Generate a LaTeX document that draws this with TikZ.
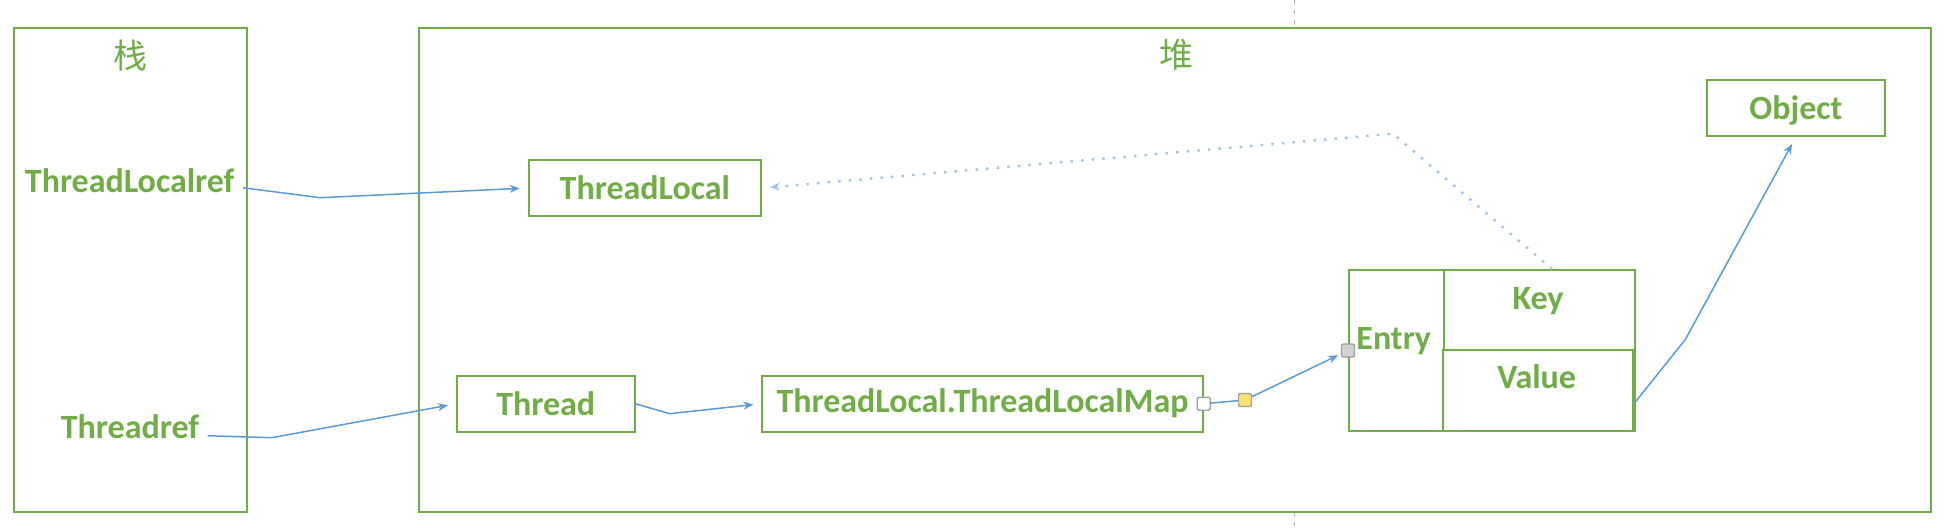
\documentclass[tikz,border=0pt]{standalone}
\usepackage{fontspec}
\setmainfont{Carlito}
\newfontfamily\cjk{Noto Sans CJK SC}
\usetikzlibrary{arrows.meta}
\definecolor{boxgreen}{RGB}{112,173,71}
\definecolor{linkblue}{RGB}{91,155,213}
\definecolor{dotblue}{RGB}{157,195,230}
\definecolor{gripyellow}{RGB}{255,226,110}

\begin{document}
\begin{tikzpicture}[
  x=0.5pt, y=-0.5pt,
  area/.style={
    draw=boxgreen, line width=1pt, inner sep=0pt
  },
  obj/.style={
    draw=boxgreen, line width=1pt, inner sep=0pt,
    font=\fontsize{17}{20}\selectfont\bfseries, text=boxgreen
  },
  lbl/.style={
    font=\fontsize{17}{20}\selectfont\bfseries, text=boxgreen, inner sep=4pt
  },
  ttl/.style={
    font=\fontsize{17}{20}\selectfont\cjk, text=boxgreen
  },
  arr/.style={
    -{Stealth[length=5pt, width=4pt]}, color=linkblue, line width=0.75pt,
    shorten >=4pt
  },
  refarr/.style={
    -{Stealth[length=5pt, width=4pt]}, color=dotblue, line width=1.2pt,
    dash pattern=on 1.2pt off 4.1pt, shorten >=4pt
  },
  grip/.style={
    draw=gray!75, rounded corners=1pt, minimum size=6.5pt, inner sep=0pt,
    line width=0.7pt
  },
  pagebreak/.style={
    draw=gray!55, line width=0.65pt, dash pattern=on 2.5pt off 2.5pt
  }
]
\useasboundingbox (0,0) rectangle (1959,527);

% Page break marks
\draw[pagebreak] (1294.8,0) -- (1294.8,28);
\draw[pagebreak] (1294.8,511.7) -- (1294.8,527);

% Stack and heap
\node[area, minimum width=116.35pt, minimum height=241.85pt] (stack) at (130.65,269.85) {};
\node[ttl] (stacktitle) at (130.3,55.3) {栈};
\node[lbl] (tlref) at (129.7,180.7) {ThreadLocalref};
\node[lbl] (threadref) at (130,426.5) {Threadref};

\node[area, minimum width=755.85pt, minimum height=241.85pt] (heap) at (1174.85,269.85) {};
\node[ttl] (heaptitle) at (1176.3,55) {堆};

% Heap objects
\node[obj, minimum width=116.15pt, minimum height=28pt] (tl) at (644.85,188) {ThreadLocal};
\node[obj, minimum width=89.05pt, minimum height=27.85pt] (thread) at (545.75,403.85) {Thread};
\node[obj, minimum width=220.2pt, minimum height=28pt] (map) at (982.5,403.7) {ThreadLocal.ThreadLocalMap};
\node[obj, minimum width=89.15pt, minimum height=28pt, text depth=0pt] (object) at (1795.85,108) {Object};

\node[area, minimum width=143pt, minimum height=80.5pt] (entry) at (1492,350.5) {};
\node[area, minimum width=95.35pt, minimum height=40pt] (key) at (1539.65,310) {};
\node[area, minimum width=95pt, minimum height=40.5pt] (value) at (1538.3,390.5) {};
\node[lbl, anchor=west] (entrytxt) at ([yshift=4.6pt]entry.west) {Entry};
\node[lbl] (keytxt) at ([xshift=-0.8pt, yshift=4.6pt]key.center) {Key};
\node[lbl] (valuetxt) at ([xshift=-0.8pt, yshift=7pt]value.center) {Value};

% Connector grips
\node[grip, fill=white] (g1) at (map.east) {};
\node[grip, fill=gripyellow] (g2) at (1245,400) {};
\node[grip, fill=gray!35] (g3) at (entry.west) {};

% References
\coordinate (b1) at (320,197.7);
\coordinate (b2) at (271.7,437.7);
\coordinate (b3) at (669.6,413.7);
\coordinate (b4) at (1392.9,133.7);
\coordinate (b5) at (1685.3,339.5);

\draw[arr] ([yshift=-3.5pt]tlref.east) -- (b1) -- (tl.west);
\draw[arr] ([yshift=-4.6pt]threadref.east) -- (b2) -- (thread.west);
\draw[arr] (thread.east) -- (b3) -- (map.west);
\draw[color=linkblue, line width=0.75pt] (g1) -- (g2);
\draw[arr, shorten >=1.5pt] (g2) -- (g3);
\draw[refarr] ([xshift=6.2pt]key.north) -- (b4) -- (tl.east);
\draw[arr] ([yshift=-6.4pt]value.east) -- (b5) -- (object.south);

\end{tikzpicture}
\end{document}
